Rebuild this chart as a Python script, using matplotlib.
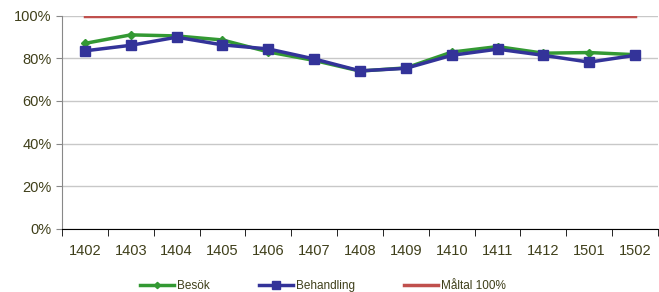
import numpy as np
import matplotlib
matplotlib.use("Agg")
import matplotlib.pyplot as plt

months = ["1402", "1403", "1404", "1405", "1406", "1407", "1408",
          "1409", "1410", "1411", "1412", "1501", "1502"]
besok = [87.0, 91.0, 90.5, 88.6, 83.0, 79.0, 74.0, 75.5, 82.9, 85.5, 82.4, 82.7, 81.7]
behandling = [83.5, 86.1, 89.9, 86.3, 84.4, 79.7, 74.1, 75.3, 81.4, 84.3, 81.4, 78.2, 81.4]
maltal = [100] * len(months)

text_col = "#3f3f1a"
plt.rcParams["font.family"] = ["Liberation Sans", "DejaVu Sans"]

fig = plt.figure(figsize=(6.59, 2.92), dpi=100)
ax = fig.add_axes([62 / 659, 1 - 228.7 / 292, 596 / 659, 213 / 292])

x = np.arange(len(months))
ax.plot(x, besok, color="#339933", lw=2.5, marker="D", ms=4, label="Besök", zorder=3)
ax.plot(x, behandling, color="#333399", lw=2.5, marker="s", ms=7, label="Behandling", zorder=4)
ax.plot(x, maltal, color="#c0504d", lw=2.5, label="Måltal 100%", zorder=2)

ax.set_xlim(-0.5, len(months) - 0.5)
ax.set_ylim(0, 100)
ax.set_yticks(np.arange(0, 101, 20))
ax.set_yticklabels([f"{v}%" for v in range(0, 101, 20)])
ax.set_xticks(x)
ax.set_xticklabels(months)
ax.set_xticks(np.arange(-0.5, len(months), 1), minor=True)
ax.tick_params(axis="x", which="major", length=0, pad=11, labelsize=10.5, labelcolor=text_col)
ax.tick_params(axis="x", which="minor", length=5, color="black", direction="out")
ax.tick_params(axis="y", length=4, color="#888888", labelsize=10.5, labelcolor=text_col)

ax.grid(axis="y", color="#c8c8c8", lw=1)
ax.set_axisbelow(True)
for s in ["top", "right"]:
    ax.spines[s].set_visible(False)
ax.spines["left"].set_color("#888888")
ax.spines["bottom"].set_color("black")

leg = fig.legend(loc="center", bbox_to_anchor=(0.49, 0.02), ncol=3, frameon=False,
                 fontsize=8.5, labelcolor=text_col, handlelength=2.9, handletextpad=0.2,
                 columnspacing=4.2, markerscale=0.8)

fig.savefig("out.png", dpi=100)
